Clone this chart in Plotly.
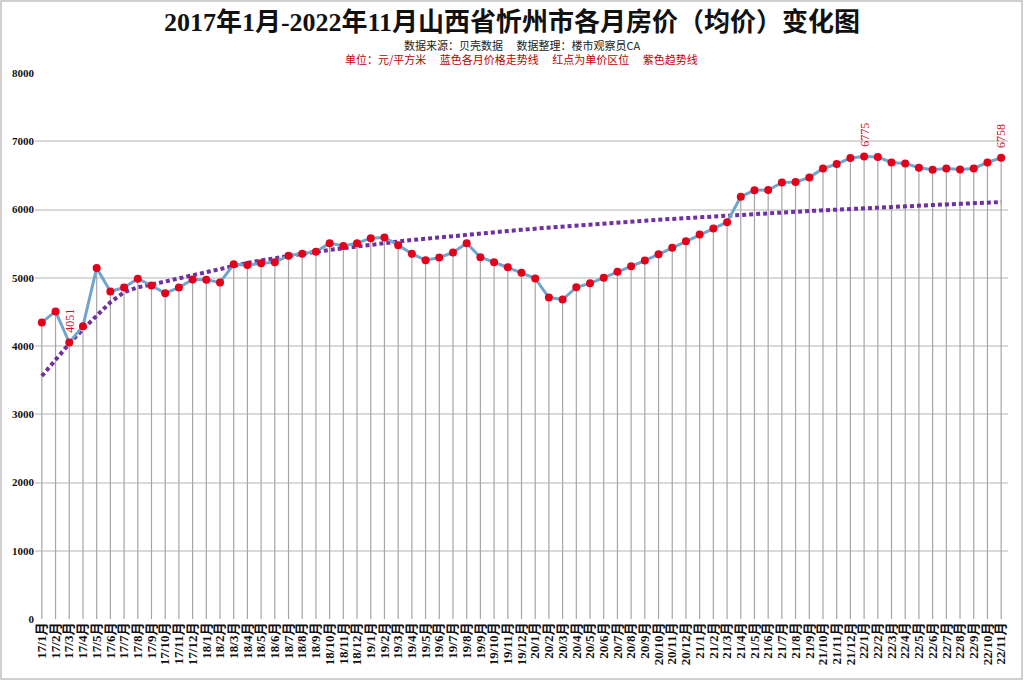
import plotly.graph_objects as go

months = [f"{y}/{m}月" for y in range(17, 23) for m in range(1, 13)][:71]

prices = [
    4345, 4507, 4051, 4291, 5143, 4798, 4857, 4985, 4887, 4773, 4857, 4975,
    4970, 4932, 5198, 5185, 5212, 5227, 5324, 5353, 5382, 5507, 5464, 5507,
    5580, 5589, 5478, 5353, 5256, 5295, 5370, 5507, 5300, 5227, 5155, 5072,
    4990, 4710, 4681, 4860, 4918, 5000, 5087, 5169, 5251, 5343, 5440, 5536,
    5632, 5720, 5815, 6187, 6281, 6286, 6394, 6404, 6468, 6601, 6665, 6754,
    6775, 6768, 6690, 6675, 6611, 6581, 6601, 6586, 6601, 6690, 6758,
]

trend = [
    3560, 3800, 4034, 4246, 4443, 4640, 4788, 4860, 4900, 4945, 4995, 5050,
    5094, 5138, 5179, 5218, 5254, 5288, 5321, 5352, 5381, 5408, 5435, 5460,
    5485, 5508, 5531, 5553, 5573, 5594, 5613, 5633, 5651, 5669, 5686, 5703,
    5719, 5735, 5751, 5766, 5781, 5795, 5809, 5823, 5837, 5850, 5862, 5875,
    5887, 5899, 5911, 5923, 5934, 5945, 5956, 5967, 5978, 5988, 5999, 6008,
    6018, 6028, 6038, 6047, 6056, 6066, 6075, 6083, 6092, 6100, 6109,
]

label_months = ["17/3月", "22/1月", "22/11月"]
label_values = [4051, 6775, 6758]

y_ticks = list(range(0, 8001, 1000))

serif = "Liberation Serif, Times New Roman, Noto Sans CJK SC, serif"

fig = go.Figure()

# drop lines
fig.add_trace(go.Scatter(
    x=months, y=prices, mode="markers",
    marker=dict(size=1, color="rgba(0,0,0,0)"),
    error_y=dict(type="data", symmetric=False, array=[0] * len(prices),
                 arrayminus=prices, color="#a6a6a6", thickness=1.2, width=0),
    hoverinfo="skip", showlegend=False,
))

fig.add_trace(go.Scatter(
    x=months, y=trend, mode="lines",
    line=dict(color="#7030a0", width=4, dash="4px,3px"),
    showlegend=False,
))

fig.add_trace(go.Scatter(
    x=months, y=prices, mode="lines+markers",
    line=dict(color="#6fa5cf", width=3),
    marker=dict(size=8, color="#e3001b"),
    showlegend=False,
))

for m, v in zip(label_months, label_values):
    fig.add_annotation(
        x=m, y=v, text=str(v), showarrow=False, textangle=-90,
        yanchor="bottom", yshift=8,
        font=dict(family=serif, size=12, color="#d0102a"),
    )

fig.add_annotation(
    xref="paper", yref="paper", x=0.5, y=1, yshift=28, yanchor="middle",
    text="数据来源：贝壳数据　 数据整理：楼市观察员CA", showarrow=False,
    font=dict(family="Noto Sans CJK SC, sans-serif", size=11, color="#222222"),
)
fig.add_annotation(
    xref="paper", yref="paper", x=0.5, y=1, yshift=14, yanchor="middle",
    text="单位：元/平方米　 蓝色各月价格走势线　 红点为单价区位　 紫色趋势线", showarrow=False,
    font=dict(family="Noto Sans CJK SC, sans-serif", size=11, color="#c00000"),
)

fig.update_layout(
    width=1024, height=681,
    margin=dict(l=35, r=16, t=73, b=62),
    paper_bgcolor="white", plot_bgcolor="white",
    title=dict(
        text="<b>2017年1月-2022年11月山西省忻州市各月房价（均价）变化图</b>",
        x=0.5, xanchor="center", y=1 - 22 / 681, yanchor="middle",
        font=dict(family=serif, size=26, color="#111111"),
    ),
    xaxis=dict(
        type="category", tickangle=-90, showgrid=False, ticks="",
        tickmode="linear", dtick=1, automargin=False, range=[-0.5, 70.5],
        tickfont=dict(family=serif, size=13, color="#111111", weight="bold"),
        showline=False, zeroline=False,
    ),
    yaxis=dict(
        range=[0, 8000], tickvals=y_ticks, showgrid=True, gridcolor="#d9d9d9",
        gridwidth=1.5, zeroline=False, ticks="", showline=False, automargin=False,
        tickfont=dict(family=serif, size=11, color="#111111", weight="bold"),
        tickformat="d",
    ),
    shapes=[dict(
        type="rect", xref="paper", yref="paper",
        x0=-34 / 973, x1=1 + 14 / 973, y0=-60 / 546, y1=1 + 72 / 546,
        line=dict(color="#d0d0d0", width=2),
    )],
)

fig.write_html("out.html", config={"displayModeBar": False},
               post_script="document.body.style.margin='0';")
